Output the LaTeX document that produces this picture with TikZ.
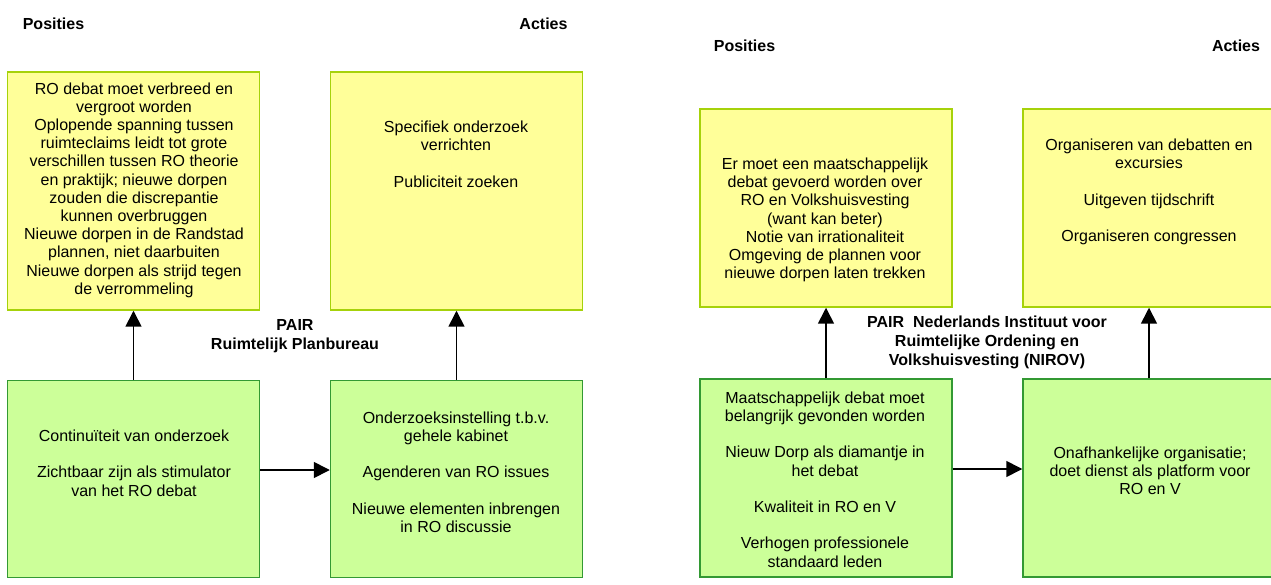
\documentclass[tikz,border=0pt]{standalone}
\usepackage{fontspec}
\setmainfont{Liberation Sans}
\usetikzlibrary{arrows.meta}
\definecolor{yfill}{HTML}{FFFF99}
\definecolor{ydraw}{HTML}{A6D20A}
\definecolor{gfill}{HTML}{CCFF99}
\definecolor{gdraw}{HTML}{339933}
\tikzset{
  ybox/.style={draw=ydraw, fill=yfill, line width=1.1pt, inner sep=0pt, minimum width={252*0.75pt}},
  gbox/.style={draw=gdraw, fill=gfill, line width=1.1pt, inner sep=0pt, minimum width={252*0.75pt}, minimum height={197*0.75pt}},
  txt/.style={align=center, inner sep=0pt, font=\fontsize{12pt}{13.65pt}\selectfont},
  head/.style={inner sep=0pt, font=\fontsize{12pt}{14.2pt}\selectfont\bfseries, align=center},
  arr/.style={line width=1.2pt, -{Triangle[width=12pt,length=12pt]}},
}
\begin{document}
\begin{tikzpicture}[x=0.75pt,y=-0.75pt]
\useasboundingbox[fill=white] (0,0) rectangle (1271,585);

% ---------- left panel ----------
\node[head] (posL) at (53.5,24) {Posities};
\node[head] (actL) at (543.5,24) {Acties};

\node[ybox, minimum height={238*0.75pt}] (yL1) at (133.5,191) {};
\node[ybox, minimum height={238*0.75pt}] (yL2) at (456.5,191) {};
\node[gbox] (gL1) at (133.5,479) {};
\node[gbox] (gL2) at (456.5,479) {};

\node[txt] (tyL1) at (134,190) {RO debat moet verbreed en\\vergroot worden\\Oplopende spanning tussen\\ruimteclaims leidt tot grote\\verschillen tussen RO theorie\\en praktijk; nieuwe dorpen\\zouden die discrepantie\\kunnen overbruggen\\Nieuwe dorpen in de Randstad\\plannen, niet daarbuiten\\Nieuwe dorpen als strijd tegen\\de verrommeling};
\node[txt] (tyL2) at (456,154) {Specifiek onderzoek\\verrichten\\[13.65pt]Publiciteit zoeken};
\node[txt] (tgL1) at (134,463) {Continuïteit van onderzoek\\[13.65pt]Zichtbaar zijn als stimulator\\van het RO debat};
\node[txt] (tgL2) at (456,472) {Onderzoeksinstelling t.b.v.\\gehele kabinet\\[13.65pt]Agenderen van RO issues\\[13.65pt]Nieuwe elementen inbrengen\\in RO discussie};
\node[head] (pairL) at (295,336.5) {PAIR\\Ruimtelijk Planbureau};

\draw[arr] (gL1.north) -- (yL1.south);
\draw[arr] (gL2.north) -- (yL2.south);
\draw[arr] ([yshift=6.75pt]gL1.east) -- ([yshift=6.75pt]gL2.west);

% ---------- right panel ----------
\node[head] (posR) at (744.5,46) {Posities};
\node[head] (actR) at (1236,46) {Acties};

\node[ybox, minimum height={198*0.75pt}] (yR1) at (826,208) {};
\node[ybox, minimum height={198*0.75pt}] (yR2) at (1149,208) {};
\node[gbox, minimum height={198*0.75pt}] (gR1) at (826,478) {};
\node[gbox, minimum height={198*0.75pt}] (gR2) at (1149,478) {};

\node[txt] (tyR1) at (825,220) {Er moet een maatschappelijk\\debat gevoerd worden over\\RO en Volkshuisvesting\\(want kan beter)\\Notie van irrationaliteit\\Omgeving de plannen voor\\nieuwe dorpen laten trekken};
\node[txt] (tyR2) at (1149,192) {Organiseren van debatten en\\excursies\\[13.65pt]Uitgeven tijdschrift\\[13.65pt]Organiseren congressen};
\node[txt] (tgR1) at (825,479.5) {Maatschappelijk debat moet\\belangrijk gevonden worden\\[13.65pt]Nieuw Dorp als diamantje in\\het debat\\[13.65pt]Kwaliteit in RO en V\\[13.65pt]Verhogen professionele\\standaard leden};
\node[txt] (tgR2) at (1150,471) {Onafhankelijke organisatie;\\doet dienst als platform voor\\RO en V};
\node[head] (pairR) at (987,342.5) {PAIR\ \ Nederlands Instituut voor\\Ruimtelijke Ordening en\\Volkshuisvesting (NIROV)};

\draw[arr] (gR1.north) -- (yR1.south);
\draw[arr] (gR2.north) -- (yR2.south);
\draw[arr] ([yshift=6.75pt]gR1.east) -- ([yshift=6.75pt]gR2.west);
\end{tikzpicture}
\end{document}
